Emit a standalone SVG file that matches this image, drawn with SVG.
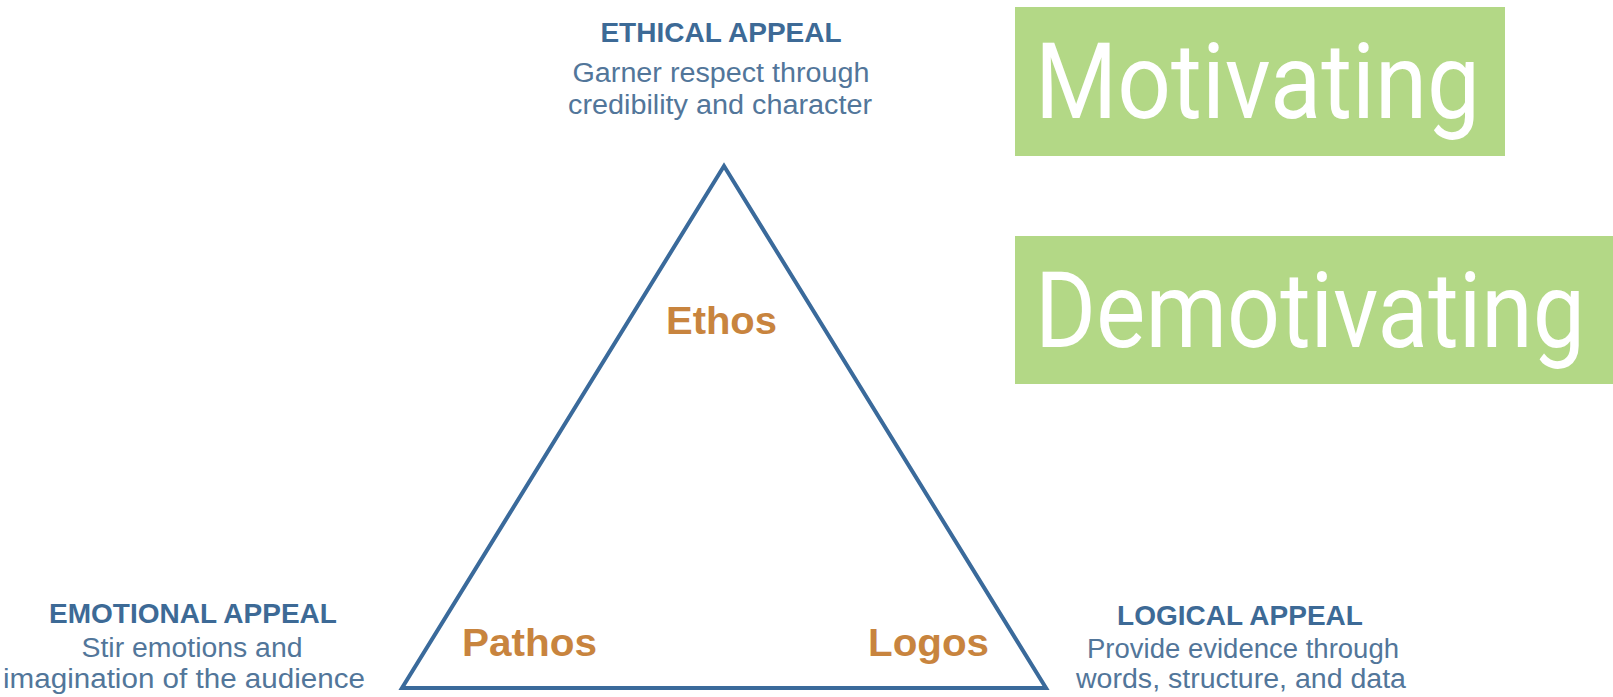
<svg xmlns="http://www.w3.org/2000/svg" width="1613" height="697" viewBox="0 0 1613 697">
<style>
.head{font-family:"Liberation Sans",Arial,sans-serif;font-weight:bold;fill:#3d6a96;text-anchor:middle;font-size:28px}
.desc{font-family:"Liberation Sans",Arial,sans-serif;fill:#52769a;text-anchor:middle;font-size:27px}
.greek{font-family:"Liberation Sans",Arial,sans-serif;font-weight:bold;fill:#c8843e;font-size:38px}
.box{fill:#b3d886}
.big{font-family:Roboto,"Liberation Sans",sans-serif;fill:#ffffff;font-size:106px}
</style>
<rect width="1613" height="697" fill="#ffffff"/>
<g id="connectors">
<polygon points="724,166 402,688 1046,688" fill="none" stroke="#3a6a9b" stroke-width="4" stroke-linejoin="miter"/>
</g>
<g id="ethical">
<text class="head" x="721" y="42">ETHICAL APPEAL</text>
<text class="desc" x="721" y="82" textLength="297" lengthAdjust="spacingAndGlyphs">Garner respect through</text>
<text class="desc" x="720" y="114" textLength="304" lengthAdjust="spacingAndGlyphs">credibility and character</text>
</g>
<g id="emotional">
<text class="head" x="193" y="623">EMOTIONAL APPEAL</text>
<text class="desc" x="192" y="657" textLength="221" lengthAdjust="spacingAndGlyphs">Stir emotions and</text>
<text class="desc" x="184" y="688" textLength="362" lengthAdjust="spacingAndGlyphs">imagination of the audience</text>
</g>
<g id="logical">
<text class="head" x="1240" y="625">LOGICAL APPEAL</text>
<text class="desc" x="1243" y="658" textLength="312" lengthAdjust="spacingAndGlyphs">Provide evidence through</text>
<text class="desc" x="1241" y="688" textLength="330" lengthAdjust="spacingAndGlyphs">words, structure, and data</text>
</g>
<g id="ethos"><text class="greek" x="666" y="334" textLength="111" lengthAdjust="spacingAndGlyphs">Ethos</text></g>
<g id="pathos"><text class="greek" x="462" y="656" textLength="135" lengthAdjust="spacingAndGlyphs">Pathos</text></g>
<g id="logos"><text class="greek" x="868" y="656" textLength="121" lengthAdjust="spacingAndGlyphs">Logos</text></g>
<g id="motivating">
<rect class="box" x="1015" y="7" width="490" height="149"/>
<text class="big" x="1035" y="118" textLength="445" lengthAdjust="spacingAndGlyphs">Motivating</text>
</g>
<g id="demotivating">
<rect class="box" x="1015" y="236" width="598" height="148"/>
<text class="big" x="1035" y="347" textLength="550" lengthAdjust="spacingAndGlyphs">Demotivating</text>
</g>
</svg>
